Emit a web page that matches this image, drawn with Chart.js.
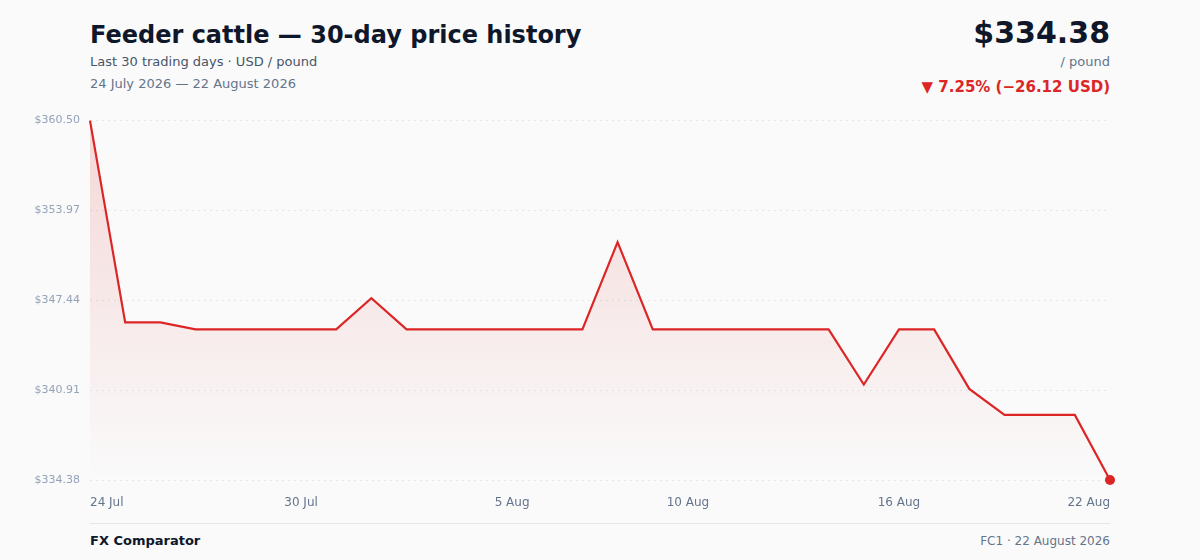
<!DOCTYPE html>
<html>
<head>
<meta charset="utf-8">
<script src="https://cdn.jsdelivr.net/npm/chart.js@4/dist/chart.umd.min.js"></script>
<style>
    html, body { margin: 0; padding: 0; }
    body {
        width: 1200px; height: 560px; background: #fafafa; position: relative;
        font-family: "DejaVu Sans", sans-serif; overflow: hidden;
    }
    .title { position: absolute; left: 90px; top: 21px; font-size: 24px; font-weight: bold; color: #0f172a; }
    .sub { position: absolute; left: 90px; top: 54px; font-size: 13px; color: #475569; }
    .range { position: absolute; left: 90px; top: 76px; font-size: 13px; color: #64748b; }
    .price { position: absolute; right: 90px; top: 15px; font-size: 30px; font-weight: bold; color: #0f172a; }
    .unit { position: absolute; right: 90px; top: 54px; font-size: 13px; color: #64748b; }
    .change { position: absolute; right: 90px; top: 78px; font-size: 15px; font-weight: bold; color: #dc2626; }
    .rule { position: absolute; left: 90px; width: 1020px; top: 523px; height: 1px; background: #e5e7eb; }
    .brand { position: absolute; left: 90px; top: 533px; font-size: 13px; font-weight: bold; color: #0f172a; }
    .source { position: absolute; right: 90px; top: 534px; font-size: 12px; color: #64748b; }
    .wrap { position: absolute; left: 0; top: 104px; width: 1200px; height: 416px; }
</style>
</head>
<body>
<div class="title">Feeder cattle — 30-day price history</div>
<div class="sub">Last 30 trading days · USD / pound</div>
<div class="range">24 July 2026 — 22 August 2026</div>
<div class="price">$334.38</div>
<div class="unit">/ pound</div>
<div class="change">▼ 7.25% (−26.12 USD)</div>
<div class="wrap"><canvas id="priceChart"></canvas></div>
<div class="rule"></div>
<div class="brand">FX Comparator</div>
<div class="source">FC1 · 22 August 2026</div>

<script>
const days = [
    "24 Jul", "25 Jul", "26 Jul", "27 Jul", "28 Jul", "29 Jul", "30 Jul", "31 Jul",
    "1 Aug", "2 Aug", "3 Aug", "4 Aug", "5 Aug", "6 Aug", "7 Aug", "8 Aug",
    "9 Aug", "10 Aug", "11 Aug", "12 Aug", "13 Aug", "14 Aug", "15 Aug", "16 Aug",
    "17 Aug", "18 Aug", "19 Aug", "20 Aug", "21 Aug", "22 Aug"
];

const prices = [
    360.50, 345.84, 345.84, 345.33, 345.33, 345.33, 345.33, 345.33,
    347.60, 345.33, 345.33, 345.33, 345.33, 345.33, 345.33, 351.67,
    345.33, 345.33, 345.33, 345.33, 345.33, 345.33, 341.32, 345.33,
    345.33, 341.00, 339.11, 339.11, 339.11, 334.38
];

const shownDays = ["24 Jul", "30 Jul", "5 Aug", "10 Aug", "16 Aug", "22 Aug"];
const yTicks = [334.38, 340.91, 347.44, 353.97, 360.50];

const red = "#dc2626";

function fillGradient(ctx) {
    const area = ctx.chart.chartArea;
    if (!area) return "rgba(220,38,38,0.1)";
    const g = ctx.chart.ctx.createLinearGradient(0, area.top, 0, area.bottom);
    g.addColorStop(0, "rgba(220,38,38,0.16)");
    g.addColorStop(1, "rgba(220,38,38,0.0)");
    return g;
}

Chart.defaults.font.family = "'DejaVu Sans', sans-serif";

new Chart(document.getElementById("priceChart"), {
    type: "line",
    data: {
        labels: days,
        datasets: [{
            data: prices,
            borderColor: red,
            borderWidth: 2.2,
            tension: 0,
            fill: true,
            backgroundColor: fillGradient,
            pointRadius: ctx => ctx.dataIndex === prices.length - 1 ? 5 : 0,
            pointBackgroundColor: red,
            pointBorderWidth: 0,
            clip: false
        }]
    },
    options: {
        responsive: true,
        maintainAspectRatio: false,
        animation: false,
        layout: { padding: { top: 4, right: 90, left: 0, bottom: 0 } },
        plugins: {
            legend: { display: false },
            tooltip: { enabled: false }
        },
        scales: {
            x: {
                grid: { display: false },
                border: { display: false },
                afterFit: s => { s.height = 40; },
                ticks: {
                    autoSkip: false,
                    maxRotation: 0,
                    align: "inner",
                    padding: 8,
                    color: "#64748b",
                    font: { size: 12 },
                    callback: function (v) {
                        const label = this.getLabelForValue(v);
                        return shownDays.includes(label) ? label : null;
                    }
                }
            },
            y: {
                min: yTicks[0],
                max: yTicks[yTicks.length - 1],
                afterBuildTicks: s => { s.ticks = yTicks.map(v => ({ value: v })); },
                afterFit: s => { s.width = 90; },
                border: { display: false, dash: [2, 4] },
                grid: {
                    color: "#e5e7eb",
                    lineWidth: 1,
                    drawTicks: false
                },
                ticks: {
                    padding: 10,
                    color: "#94a3b8",
                    font: { size: 11 },
                    callback: v => "$" + v.toFixed(2)
                }
            }
        }
    }
});
</script>
</body>
</html>
